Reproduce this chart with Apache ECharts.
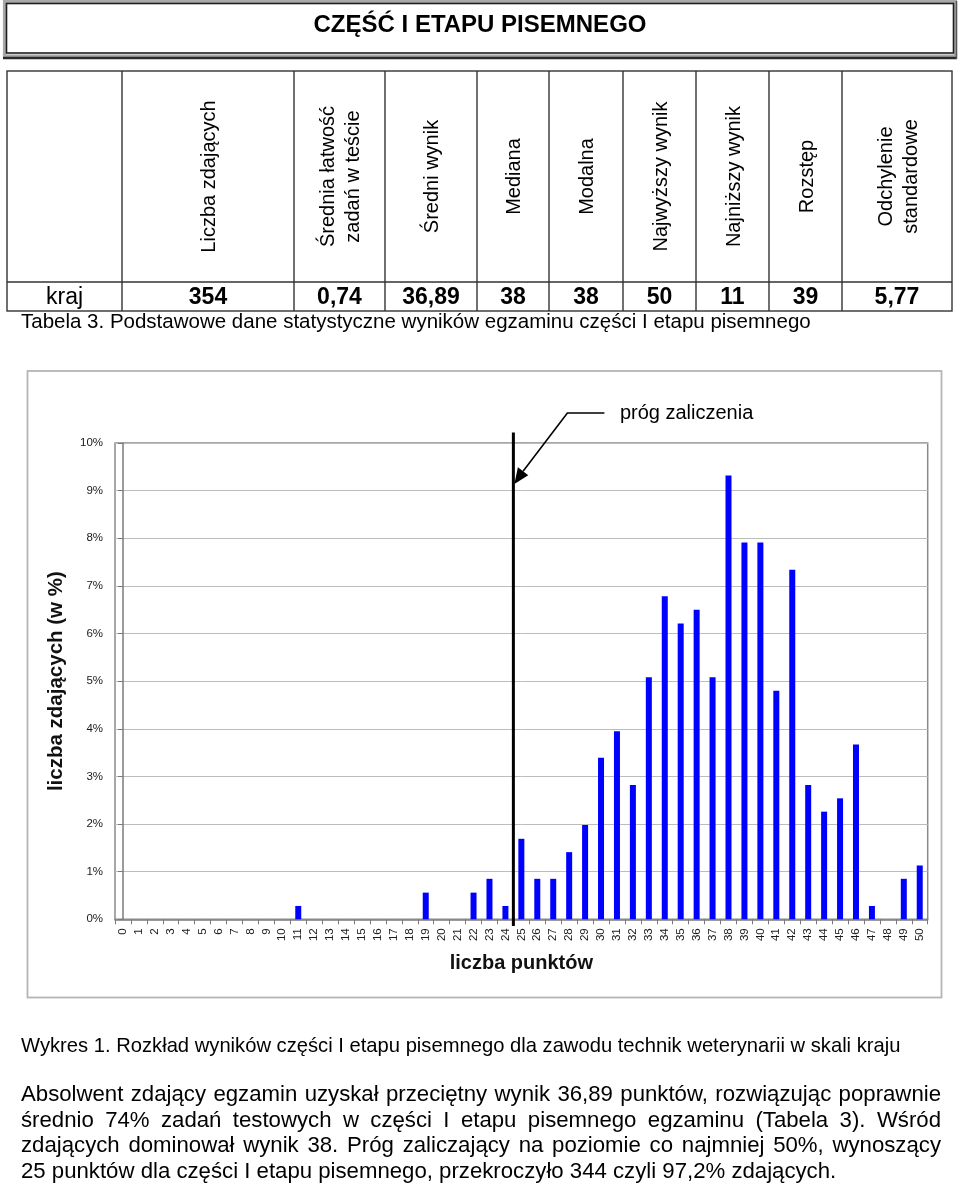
<!DOCTYPE html>
<html>
<head>
<meta charset="utf-8">
<script src="https://cdn.jsdelivr.net/npm/echarts@6/dist/echarts.min.js"></script>
<style>
html,body{margin:0;padding:0;background:#fff;}
body{width:960px;height:1186px;position:relative;overflow:hidden;font-family:"Liberation Sans",Arial,sans-serif;color:#000;}
#chart{position:absolute;left:0;top:0;width:960px;height:1186px;}
#overlay{position:absolute;left:0;top:0;pointer-events:none;}
.pline{position:absolute;left:21px;width:920px;height:22px;font-size:22.2px;line-height:22px;white-space:nowrap;}
.just{text-align:justify;text-align-last:justify;white-space:normal;}
</style>
</head>
<body>
<div id="chart"></div>
<svg id="overlay" width="960" height="1186" xmlns="http://www.w3.org/2000/svg"></svg>
<div id="texts"></div>
<script>
// ---------------- DATA ----------------
const pageTitle = 'CZĘŚĆ I ETAPU PISEMNEGO';
const tableHeaders = ['', 'Liczba zdających', 'Średnia łatwość\nzadań w teście', 'Średni wynik', 'Mediana', 'Modalna', 'Najwyższy wynik', 'Najniższy wynik', 'Rozstęp', 'Odchylenie\nstandardowe'];
const tableRow = ['kraj', '354', '0,74', '36,89', '38', '38', '50', '11', '39', '5,77'];
const tableCaption = 'Tabela 3. Podstawowe dane statystyczne wyników egzaminu części I etapu pisemnego';

const scoreCategories = ['0','1','2','3','4','5','6','7','8','9','10','11','12','13','14','15','16','17','18','19','20','21','22','23','24','25','26','27','28','29','30','31','32','33','34','35','36','37','38','39','40','41','42','43','44','45','46','47','48','49','50'];
// share of candidates (in %) per score
const sharePercent = [0,0,0,0,0,0,0,0,0,0,0,0.28,0,0,0,0,0,0,0,0.56,0,0,0.56,0.85,0.28,1.69,0.85,0.85,1.41,1.98,3.39,3.95,2.82,5.08,6.78,6.21,6.50,5.08,9.32,7.91,7.91,4.80,7.34,2.82,2.26,2.54,3.67,0.28,0,0.85,1.13];
const yAxisMin = 0, yAxisMax = 10, yAxisStep = 1;
const passScore = 25;
const passLabel = 'próg zaliczenia';
const arrowTipPercent = 9.14;
const xAxisTitle = 'liczba punktów';
const yAxisTitle = 'liczba zdających (w %)';
const chartCaption = 'Wykres 1. Rozkład wyników części I etapu pisemnego dla zawodu technik weterynarii w skali kraju';
const paragraphLines = [
  'Absolwent zdający egzamin uzyskał przeciętny wynik 36,89 punktów, rozwiązując poprawnie',
  'średnio 74% zadań testowych w części I etapu pisemnego egzaminu (Tabela 3). Wśród',
  'zdających dominował wynik 38. Próg zaliczający na poziomie co najmniej 50%, wynoszący',
  '25 punktów dla części I etapu pisemnego, przekroczyło 344 czyli 97,2% zdających.'
];

// ---------------- LAYOUT (page) ----------------
const FONT = '"Liberation Sans", Arial, sans-serif';
const colX = [7, 122, 294, 385, 477, 549, 623, 696, 769, 842, 952];
const rowY = [71, 282, 311];

function esc(s){return s.replace(/&/g,'&amp;').replace(/</g,'&lt;');}
let svg = '';
// title box
svg += '<rect x="4.5" y="1.5" width="951" height="54.5" fill="none" stroke="#a9a9a9" stroke-width="3.2"/>';
svg += '<rect x="6.5" y="3.5" width="947" height="49.5" fill="none" stroke="#1e1e1e" stroke-width="1.6"/>';
svg += '<line x1="3" y1="58" x2="957" y2="58" stroke="#2a2a2a" stroke-width="2.5"/>';
svg += '<line x1="956.5" y1="1" x2="956.5" y2="59" stroke="#555" stroke-width="1.5"/>';
svg += `<text x="480" y="31.7" text-anchor="middle" font-family='${FONT}' font-size="24" font-weight="bold">${esc(pageTitle)}</text>`;
// table
const tStroke = 'stroke="#333" stroke-width="1.4"';
svg += `<rect x="${colX[0]}" y="${rowY[0]}" width="${colX[colX.length-1]-colX[0]}" height="${rowY[2]-rowY[0]}" fill="none" ${tStroke}/>`;
svg += `<line x1="${colX[0]}" y1="${rowY[1]}" x2="${colX[colX.length-1]}" y2="${rowY[1]}" ${tStroke}/>`;
for(let i=1;i<colX.length-1;i++){
  svg += `<line x1="${colX[i]}" y1="${rowY[0]}" x2="${colX[i]}" y2="${rowY[2]}" ${tStroke}/>`;
}
const headMid = (rowY[0]+rowY[1])/2;
tableHeaders.forEach((h,i)=>{
  if(!h) return;
  const cx = (colX[i]+colX[i+1])/2;
  const lines = h.split('\n');
  const lh = 25;
  let t = `<text transform="translate(${cx},${headMid}) rotate(-90)" text-anchor="middle" font-family='${FONT}' font-size="20">`;
  lines.forEach((ln,k)=>{
    const off = (k-(lines.length-1)/2)*lh + 7;
    t += `<tspan x="0" y="${off}">${esc(ln)}</tspan>`;
  });
  t += '</text>';
  svg += t;
});
tableRow.forEach((v,i)=>{
  const cx = (colX[i]+colX[i+1])/2;
  svg += `<text x="${cx}" y="304" text-anchor="middle" font-family='${FONT}' font-size="23" font-weight="${i===0?'normal':'bold'}">${esc(v)}</text>`;
});
svg += `<text x="21" y="327.5" font-family='${FONT}' font-size="20.5">${esc(tableCaption)}</text>`;
// chart frame
svg += '<rect x="27.5" y="371" width="914" height="626.5" fill="none" stroke="#b5b5b5" stroke-width="1.8"/>';
// chart caption
svg += `<text x="21" y="1052" font-family='${FONT}' font-size="20.2">${esc(chartCaption)}</text>`;
document.getElementById('overlay').innerHTML = svg;

// paragraph (justified lines)
const pBase = [1101.7, 1127.3, 1153, 1178.7];
let ph = '';
paragraphLines.forEach((ln,k)=>{
  const top = pBase[k] - 0.8465*22.2;
  ph += `<div class="pline ${k<paragraphLines.length-1?'just':''}" style="top:${top}px;line-height:22.2px">${esc(ln)}</div>`;
});
document.getElementById('texts').innerHTML = ph;

// ---------------- CHART ----------------
const chart = echarts.init(document.getElementById('chart'), null, {renderer:'canvas'});
const option = {
  animation: false,
  textStyle: {fontFamily: FONT},
  grid: {left:115, top:443, right:32.3, bottom:266.7, show:true, borderColor:'#8a8a8a', borderWidth:1.5, containLabel:false},
  xAxis: [{
    type:'category', data:scoreCategories, boundaryGap:true,
    axisLine:{show:true, lineStyle:{color:'#7a7a7a', width:1.5}},
    axisTick:{show:true, interval:0, length:5, lineStyle:{color:'#7a7a7a', width:1}},
    axisLabel:{interval:0, rotate:90, fontSize:11.5, color:'#1a1a1a', margin:9, fontFamily:FONT},
    splitLine:{show:false},
    name:xAxisTitle, nameLocation:'middle', nameGap:34,
    nameTextStyle:{fontSize:20, fontWeight:'bold', color:'#111', fontFamily:FONT}
  },{
    type:'value', min:-0.5, max:scoreCategories.length-0.5, show:false, position:'bottom'
  }],
  yAxis: {
    type:'value', min:yAxisMin, max:yAxisMax, interval:yAxisStep,
    axisLine:{show:true, lineStyle:{color:'#7a7a7a', width:1.5}},
    axisTick:{show:true, length:5, lineStyle:{color:'#7a7a7a'}},
    axisLabel:{formatter:'{value}%', fontSize:11.5, color:'#1a1a1a', margin:12, fontFamily:FONT},
    splitLine:{show:true, lineStyle:{color:'#bcbcbc', width:1}},
    name:yAxisTitle, nameLocation:'middle', nameRotate:90, nameGap:48,
    nameTextStyle:{fontSize:20.5, fontWeight:'bold', color:'#111', fontFamily:FONT}
  },
  series: [{
    type:'bar', xAxisIndex:0, data:sharePercent, barWidth:6,
    itemStyle:{color:'#0000ff'}, silent:true
  },{
    type:'custom', xAxisIndex:1, clip:false, silent:true, z:10,
    data:[[passScore-0.5, arrowTipPercent]],
    renderItem: function(params, api){
      const xv = api.value(0);
      const top = api.coord([xv, yAxisMax]);
      const bottom = api.coord([xv, yAxisMin]);
      const tip = api.coord([xv, api.value(1)]);
      const lx = top[0];
      const elbow = [tip[0]+54, tip[1]-71];
      const end = [elbow[0]+37, elbow[1]];
      const dx = elbow[0]-tip[0], dy = elbow[1]-tip[1];
      const len = Math.sqrt(dx*dx+dy*dy);
      const ux = dx/len, uy = dy/len;
      const L = 16, W = 6.5;
      const base = [tip[0]+ux*L, tip[1]+uy*L];
      const px = -uy, py = ux;
      return {type:'group', children:[
        {type:'line', shape:{x1:lx, y1:top[1]-10.5, x2:lx, y2:bottom[1]+6.7}, style:{stroke:'#000', lineWidth:3}},
        {type:'polyline', shape:{points:[base, elbow, end]}, style:{stroke:'#000', lineWidth:1.6, fill:null}},
        {type:'polygon', shape:{points:[[tip[0]+1,tip[1]], [base[0]+px*W, base[1]+py*W], [base[0]-px*W, base[1]-py*W]]}, style:{fill:'#000'}},
        {type:'text', x:end[0]+15.5, y:elbow[1]+1, style:{text:passLabel, fontSize:20, fill:'#000', verticalAlign:'middle', align:'left', fontFamily:FONT}}
      ]};
    }
  }]
};
chart.setOption(option);
</script>
</body>
</html>
